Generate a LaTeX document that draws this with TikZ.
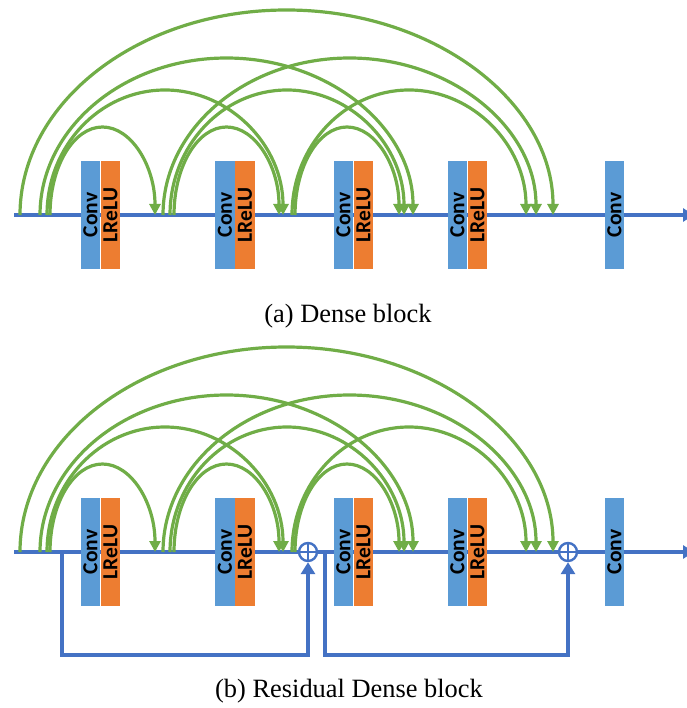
\documentclass[tikz,border=0pt]{standalone}
\usepackage{fontspec}
\usepackage{graphicx}
\setmainfont{Liberation Serif}
\newfontfamily\boxfont{Carlito}
\usetikzlibrary{arrows.meta,positioning}
\definecolor{arcgreen}{HTML}{70AD47}
\definecolor{lineblue}{HTML}{4472C4}
\definecolor{convblue}{HTML}{5B9BD5}
\definecolor{reluorange}{HTML}{ED7D31}
\tikzset{
  mainline/.style={draw=lineblue, line width=4pt},
  densearc/.style={draw=arcgreen, line width=3.2pt, -{Triangle[width=11pt,length=11pt]}},
  convbox/.style={fill=convblue, inner sep=0pt, minimum width=19.5pt, minimum height=108pt,
    font=\boxfont\bfseries\fontsize{21.5}{21.5}\selectfont},
  relubox/.style={convbox, fill=reluorange},
  addnode/.style={circle, draw=lineblue, line width=2.4pt, fill=white, minimum size=18pt, inner sep=0pt,
    path picture={\draw[lineblue, line width=2.4pt] (path picture bounding box.north) -- (path picture bounding box.south)
      (path picture bounding box.west) -- (path picture bounding box.east);}},
  caption/.style={anchor=base, font=\fontsize{26.4}{30}\selectfont}
}
\begin{document}
\begin{tikzpicture}[x=1pt,y=-1pt]
    \useasboundingbox (0,0) rectangle (686,708);
    \foreach \p/\y in {a/215,b/552}{
        \coordinate (in\p) at (14,\y);
        \coordinate (out\p) at (694,\y);
        \draw[mainline, -{Triangle[width=13pt,length=11pt]}] (in\p) -- (out\p);
        % dense connections: tail / head / height
        \foreach \s/\e/\h in {50/155/88, 47/283/125, 40/413/157, 20/553/205,
                              174/279/88, 170/404/125, 163/536/157,
                              295/399/88, 292/526/125}{
            \pgfmathsetmacro\rx{(\e-\s)/2}
            \draw[densearc] (\s,\y) arc[start angle=180, end angle=0, x radius=\rx pt, y radius=\h pt];
        }
        \node[convbox] (c1\p) at (90.5,\y) {\rotatebox{90}{Conv}};
        \node[relubox, right=0pt of c1\p] (r1\p) {\rotatebox{90}{LReLU}};
        \node[convbox] (c2\p) at (225,\y) {\rotatebox{90}{Conv}};
        \node[relubox, right=0pt of c2\p] (r2\p) {\rotatebox{90}{LReLU}};
        \node[convbox] (c3\p) at (343.5,\y) {\rotatebox{90}{Conv}};
        \node[relubox, right=0pt of c3\p] (r3\p) {\rotatebox{90}{LReLU}};
        \node[convbox] (c4\p) at (457.5,\y) {\rotatebox{90}{Conv}};
        \node[relubox, right=0pt of c4\p] (r4\p) {\rotatebox{90}{LReLU}};
        \node[convbox] (c5\p) at (614.5,\y) {\rotatebox{90}{Conv}};
    }
    % residual paths
    \node[addnode] (add1) at (308,552) {};
    \node[addnode] (add2) at (568,552) {};
    \coordinate (tap1) at (62,552);
    \coordinate (tap2) at (325,552);
    \draw[mainline, -{Triangle[width=14pt,length=12pt]}] (tap1) -- ++(0,103) -| (add1.south);
    \draw[mainline, -{Triangle[width=14pt,length=12pt]}] (tap2) -- ++(0,103) -| (add2.south);
    \node[caption] (capa) at (348,322) {(a) Dense block};
    \node[caption] (capb) at (349,697) {(b) Residual Dense block};
\end{tikzpicture}
\end{document}
